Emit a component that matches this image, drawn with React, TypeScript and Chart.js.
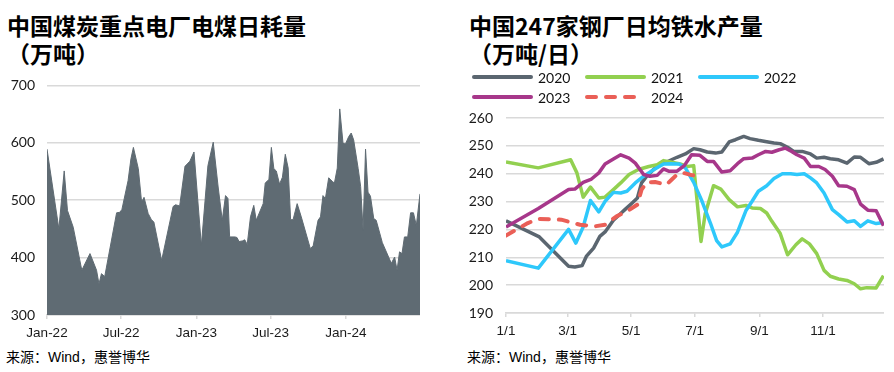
import React, { useEffect, useRef } from 'react';
import { Chart, registerables } from 'chart.js';

Chart.register(...registerables);

// ---------- Left chart: 中国煤炭重点电厂电煤日耗量 (days since 2022-01-01) ----------
const coalDays = [
  0, 29, 42, 50, 64, 85, 105, 121, 127, 133,
  141, 170, 178, 183, 198, 205, 211, 223, 231, 237,
  247, 255, 261, 280, 308, 314, 324, 337, 349, 359,
  377, 393, 406, 418, 428, 436, 442, 446, 459, 464,
  469, 477, 483, 489, 497, 505, 511, 528, 533, 542,
  548, 554, 560, 568, 575, 582, 589, 595, 601, 611,
  621, 643, 650, 662, 668, 674, 680, 688, 698, 702,
  709, 715, 723, 729, 737, 743, 749, 760, 766, 772,
  778, 784, 790, 798, 804, 819, 841, 849, 855, 861,
  867, 873, 881, 888, 895, 902, 911,
];
const coalValues = [
  589, 450, 551, 482, 453, 378, 407, 378, 354, 372,
  367, 478, 479, 484, 534, 572, 592, 555, 497, 505,
  477, 466, 462, 395, 489, 492, 490, 559, 568, 584,
  421, 560, 601, 523, 465, 508, 503, 436, 436, 435,
  428, 429, 431, 423, 471, 491, 465, 494, 530, 536,
  592, 555, 551, 528, 540, 580, 556, 466, 466, 494,
  471, 416, 420, 465, 471, 508, 503, 539, 532, 530,
  556, 659, 599, 598, 611, 617, 605, 555, 524, 448,
  589, 514, 507, 468, 465, 426, 390, 401, 378, 410,
  407, 436, 436, 478, 478, 456, 511,
];
const coalTickDays = [0, 181, 365, 546, 730];
const coalTickLabels = ['Jan-22', 'Jul-22', 'Jan-23', 'Jul-23', 'Jan-24'];

// ---------- Right chart: 中国247家钢厂日均铁水产量 (day of year) ----------
const ironTickDays = [0, 59, 120, 181, 243, 304];
const ironTickLabels = ['1/1', '3/1', '5/1', '7/1', '9/1', '11/1'];
const years = ['2020', '2021', '2022', '2023', '2024'];

const days2020 = [0, 32, 60, 66, 73, 77, 84, 90, 95, 103, 110, 114, 121, 126, 130, 135, 142, 148, 154, 164, 172, 180, 186, 193, 201, 207, 214, 220, 228, 234, 242, 250, 257, 263, 270, 276, 284, 292, 298, 305, 311, 319, 327, 334, 340, 348, 355, 362];
const iron2020 = [223.1, 217.3, 206.8, 206.5, 207.0, 210.3, 213.3, 217.5, 219.1, 223.3, 225.7, 227.1, 229.5, 231.3, 236.7, 239.1, 241.7, 243.2, 244.2, 245.9, 247.1, 249.0, 248.6, 247.8, 247.4, 247.8, 251.4, 252.2, 253.4, 252.6, 252.0, 251.5, 251.0, 250.8, 249.5, 248.0, 248.0, 247.1, 245.6, 245.9, 245.4, 245.0, 243.8, 246.0, 245.9, 243.6, 244.1, 245.3];

const days2021 = [0, 31, 62, 68, 74, 81, 89, 95, 103, 110, 118, 127, 137, 145, 151, 159, 167, 174, 180, 187, 191, 199, 206, 214, 222, 230, 236, 244, 250, 255, 263, 270, 278, 284, 291, 298, 305, 311, 319, 327, 334, 340, 346, 355, 362];
const iron2021 = [244.2, 242.1, 245.0, 240.3, 231.6, 235.2, 231.3, 231.6, 234.3, 236.7, 239.7, 241.5, 242.6, 243.2, 244.7, 244.1, 243.5, 242.6, 242.9, 215.7, 225.5, 235.7, 234.5, 230.7, 228.1, 228.6, 227.7, 227.5, 225.9, 222.9, 218.5, 210.9, 214.5, 216.6, 214.8, 211.3, 205.3, 203.2, 202.2, 201.7, 200.5, 198.7, 199.1, 199.0, 203.4];

const days2022 = [0, 31, 60, 67, 74, 81, 89, 95, 103, 110, 116, 124, 132, 142, 151, 158, 166, 172, 180, 188, 196, 202, 207, 215, 222, 230, 236, 242, 250, 257, 265, 273, 279, 286, 292, 298, 305, 313, 319, 327, 334, 340, 347, 355, 362];
const iron2022 = [208.8, 206.1, 220.0, 215.1, 220.9, 230.4, 226.3, 230.1, 233.3, 233.1, 233.7, 236.7, 239.1, 241.5, 243.5, 243.6, 243.5, 242.1, 236.9, 230.1, 222.3, 216.0, 213.7, 214.8, 219.0, 226.7, 230.1, 233.7, 235.7, 238.3, 240.0, 240.0, 239.7, 240.0, 238.5, 236.7, 233.1, 227.1, 225.3, 222.7, 223.1, 221.1, 223.1, 222.1, 222.5];

const days2023 = [0, 31, 60, 66, 74, 82, 89, 95, 103, 110, 118, 124, 132, 138, 145, 151, 156, 164, 171, 178, 186, 193, 199, 207, 215, 222, 228, 236, 242, 249, 255, 262, 268, 274, 279, 286, 292, 300, 306, 313, 319, 327, 334, 340, 347, 355, 362];
const iron2023 = [220.9, 227.5, 234.3, 234.5, 236.9, 238.1, 240.3, 243.5, 245.3, 246.8, 245.6, 243.8, 239.7, 239.1, 239.4, 241.7, 240.9, 240.9, 242.9, 246.8, 246.6, 244.4, 244.4, 240.6, 241.1, 243.6, 245.4, 245.6, 246.8, 248.0, 247.7, 248.6, 249.2, 248.0, 246.8, 245.6, 242.6, 242.6, 241.5, 239.1, 235.7, 235.5, 234.3, 229.1, 226.9, 226.7, 221.3];

const days2024 = [0, 21, 31, 53, 71, 85, 95, 106, 117, 126, 130, 135, 143, 154, 159, 164, 170, 178, 185];
const iron2024 = [217.8, 222.3, 223.8, 223.5, 221.7, 221.1, 221.7, 224.7, 226.7, 228.9, 234.3, 236.9, 237.0, 236.1, 237.9, 239.7, 240.3, 239.5, 239.1];

const yearColors = ['#5b6670', '#92d050', '#2ec8fb', '#a7378a', '#ea5f57'];

const toPoints = (xs: number[], ys: number[]) => xs.map((x, i) => ({ x, y: ys[i] }));

const tickFontX = { family: "'Liberation Sans', Arial, sans-serif", size: 13.5 };
const tickFontY = { family: "Lato, 'Liberation Sans', sans-serif", size: 14 };
const gridColor = '#d9d9d9';

const yearLegendPlugin = {
  id: 'yearLegend',
  afterDraw(chart: any) {
    const ctx = chart.ctx;
    const x0 = 27;
    const y0 = 17;
    const colStep = 113;
    const rowStep = 20;
    const lineLen = 57;
    chart.data.datasets.forEach((ds: any, i: number) => {
      const col = i % 3;
      const row = Math.floor(i / 3);
      const x = x0 + col * colStep;
      const y = y0 + row * rowStep;
      ctx.save();
      ctx.strokeStyle = ds.borderColor;
      ctx.lineWidth = 4;
      ctx.lineCap = 'round';
      ctx.setLineDash(ds.borderDash || []);
      ctx.beginPath();
      ctx.moveTo(x, y);
      ctx.lineTo(x + lineLen, y);
      ctx.stroke();
      ctx.setLineDash([]);
      ctx.fillStyle = '#111';
      ctx.font = "14px Lato, 'Liberation Sans', sans-serif";
      ctx.textBaseline = 'middle';
      ctx.textAlign = 'left';
      ctx.fillText(ds.label, x + lineLen + 7, y + 1);
      ctx.restore();
    });
  },
};

function CoalChart() {
  const ref = useRef<HTMLCanvasElement | null>(null);
  useEffect(() => {
    if (!ref.current) return;
    const chart = new Chart(ref.current, {
      type: 'line',
      data: {
        datasets: [
          {
            label: '电煤日耗量',
            data: toPoints(coalDays, coalValues),
            borderColor: '#5f6b73',
            backgroundColor: '#5f6b73',
            borderWidth: 1,
            fill: 'start',
            pointRadius: 0,
            tension: 0,
          },
        ],
      },
      options: {
        animation: false,
        responsive: true,
        maintainAspectRatio: false,
        layout: { padding: { top: 0, right: 0, left: 0, bottom: 0 } },
        plugins: { legend: { display: false }, tooltip: { enabled: false } },
        scales: {
          x: {
            type: 'linear',
            min: 0,
            max: 911,
            afterBuildTicks: (s: any) => {
              s.ticks = coalTickDays.map((v) => ({ value: v }));
            },
            afterFit: (s: any) => {
              s.height = 30;
            },
            ticks: {
              autoSkip: false,
              maxRotation: 0,
              padding: 6,
              color: '#1a1a1a',
              font: tickFontX,
              callback: (v: any) => coalTickLabels[coalTickDays.indexOf(Number(v))] ?? '',
            },
            grid: { drawOnChartArea: false, drawTicks: true, tickLength: 4, color: gridColor, lineWidth: 1.5 },
            border: { display: true, color: gridColor, width: 1.5 },
          },
          y: {
            min: 300,
            max: 700,
            afterFit: (s: any) => {
              s.width = 47;
            },
            ticks: { stepSize: 100, padding: 12, color: '#1a1a1a', font: tickFontY },
            grid: { color: gridColor, lineWidth: 1.5, drawTicks: false },
            border: { display: false },
          },
        },
      },
    });
    return () => chart.destroy();
  }, []);
  return (
    <div style={{ position: 'absolute', left: 0, top: 65, width: 420, height: 280 }}>
      <canvas ref={ref} />
    </div>
  );
}

function IronChart() {
  const ref = useRef<HTMLCanvasElement | null>(null);
  useEffect(() => {
    if (!ref.current) return;
    const series = [
      [days2020, iron2020],
      [days2021, iron2021],
      [days2022, iron2022],
      [days2023, iron2023],
      [days2024, iron2024],
    ];
    const chart = new Chart(ref.current, {
      type: 'line',
      data: {
        datasets: series.map(([d, v], i) => ({
          label: years[i],
          data: toPoints(d as number[], v as number[]),
          borderColor: yearColors[i],
          backgroundColor: yearColors[i],
          borderWidth: i === 4 ? 4 : 3.5,
          borderDash: i === 4 ? [9, 10] : [],
          borderCapStyle: i === 4 ? 'round' : 'butt',
          borderJoinStyle: 'round',
          pointRadius: 0,
          tension: 0,
          fill: false,
          order: 5 - i,
        })),
      },
      options: {
        animation: false,
        responsive: true,
        maintainAspectRatio: false,
        layout: { padding: { top: 58, right: 0, left: 0, bottom: 0 } },
        plugins: { legend: { display: false }, tooltip: { enabled: false } },
        scales: {
          x: {
            type: 'linear',
            min: 0,
            max: 362.5,
            afterBuildTicks: (s: any) => {
              s.ticks = ironTickDays.map((v) => ({ value: v }));
            },
            afterFit: (s: any) => {
              s.height = 32;
            },
            ticks: {
              autoSkip: false,
              maxRotation: 0,
              padding: 6,
              color: '#1a1a1a',
              font: tickFontX,
              callback: (v: any) => ironTickLabels[ironTickDays.indexOf(Number(v))] ?? '',
            },
            grid: { drawOnChartArea: false, drawTicks: true, tickLength: 4, color: gridColor, lineWidth: 1.5 },
            border: { display: true, color: gridColor, width: 1.5 },
          },
          y: {
            min: 190,
            max: 260,
            afterFit: (s: any) => {
              s.width = 59;
            },
            ticks: { stepSize: 10, padding: 13, color: '#1a1a1a', font: tickFontY },
            grid: { color: gridColor, lineWidth: 1.5, drawTicks: false },
            border: { display: false },
          },
        },
      },
      plugins: [yearLegendPlugin],
    });
    return () => chart.destroy();
  }, []);
  return (
    <div style={{ position: 'absolute', left: 447, top: 60, width: 437, height: 285 }}>
      <canvas ref={ref} />
    </div>
  );
}

const titleStyle: React.CSSProperties = {
  position: 'absolute',
  top: 11,
  fontFamily: "'Noto Sans CJK SC', sans-serif",
  fontWeight: 700,
  fontSize: 23,
  lineHeight: '28px',
  color: '#000',
  whiteSpace: 'nowrap',
};

const sourceStyle: React.CSSProperties = {
  position: 'absolute',
  top: 349,
  fontFamily: "'Liberation Sans', 'Noto Sans CJK SC', sans-serif",
  fontSize: 14,
  lineHeight: '16px',
  color: '#000',
  whiteSpace: 'nowrap',
};

export default function App() {
  return (
    <div style={{ position: 'absolute', left: 0, top: 0, width: 894, height: 372, background: '#fff', overflow: 'hidden' }}>
      <div style={{ ...titleStyle, left: 7 }}>
        <div>中国煤炭重点电厂电煤日耗量</div>
        <div>（万吨）</div>
      </div>
      <div style={{ ...titleStyle, left: 469 }}>
        <div>中国247家钢厂日均铁水产量</div>
        <div>（万吨/日）</div>
      </div>
      <CoalChart />
      <IronChart />
      <div style={{ ...sourceStyle, left: 6 }}>来源：Wind，惠誉博华</div>
      <div style={{ ...sourceStyle, left: 467 }}>来源：Wind，惠誉博华</div>
    </div>
  );
}
